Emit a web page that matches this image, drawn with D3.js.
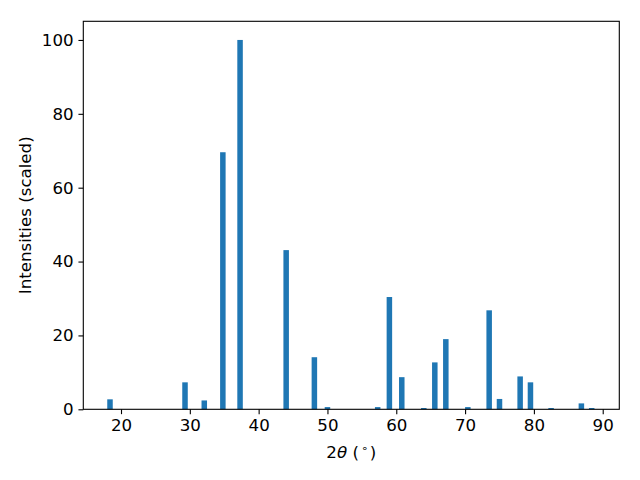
<!DOCTYPE html>
<html>
<head>
<meta charset="utf-8">
<script src="https://cdn.jsdelivr.net/npm/d3@7"></script>
<style>
  body { margin: 0; background: #fff; }
  text { font-family: "DejaVu Sans", sans-serif; }
</style>
</head>
<body>
<svg id="chart" width="640" height="480"></svg>
<script>
// Peak positions (2θ, degrees) and scaled intensities
const positions = [18.4, 29.3, 32.1, 34.8, 37.3, 44.0, 48.1, 50.0, 57.3, 59.0, 60.8, 64.0, 65.6, 67.2, 70.4, 73.5, 75.0, 78.0, 79.5, 82.5, 86.9, 88.4];
const intensities = [2.7, 7.3, 2.4, 69.6, 100, 43.1, 14.1, 0.6, 0.6, 30.4, 8.7, 0.35, 12.7, 19.0, 0.6, 26.8, 2.8, 8.9, 7.3, 0.35, 1.6, 0.35];
const xTicks = [20, 30, 40, 50, 60, 70, 80, 90];
const yTicks = [0, 20, 40, 60, 80, 100];
const barWidth = 0.8;

const data = positions.map((p, i) => ({ x: p, y: intensities[i] }));

const svg = d3.select("#chart");
const margin = { left: 83.3, top: 21.3, right: 640 - 619.3, bottom: 480 - 409.3 };
const W = 640 - margin.left - margin.right;
const H = 480 - margin.top - margin.bottom;

const x = d3.scaleLinear().domain([14.52, 92.41]).range([0, W]);
const y = d3.scaleLinear().domain([0, 105.05]).range([H, 0]);

const g = svg.append("g").attr("transform", `translate(${margin.left},${margin.top})`);

g.selectAll("rect.bar").data(data).enter().append("rect")
  .attr("class", "bar")
  .attr("x", d => x(d.x - barWidth / 2))
  .attr("width", d => x(d.x + barWidth / 2) - x(d.x - barWidth / 2))
  .attr("y", d => y(d.y))
  .attr("height", d => y(0) - y(d.y))
  .attr("fill", "#1f77b4");

const fs = "16.67px";

const xAxis = g.append("g").attr("transform", `translate(0,${H})`)
  .call(d3.axisBottom(x).tickValues(xTicks).tickFormat(d3.format("d")).tickSizeOuter(0).tickSize(4.86).tickPadding(4.86));
const yAxis = g.append("g")
  .call(d3.axisLeft(y).tickValues(yTicks).tickFormat(d3.format("d")).tickSizeOuter(0).tickSize(4.86).tickPadding(4.86));

[xAxis, yAxis].forEach(a => {
  a.select(".domain").remove();
  a.selectAll(".tick line").attr("stroke", "#000").attr("stroke-width", 1.1);
  a.selectAll(".tick text").attr("fill", "#000").style("font-size", fs).style("font-family", "DejaVu Sans, sans-serif");
});

// Frame
g.append("rect").attr("x", 0).attr("y", 0).attr("width", W).attr("height", H)
  .attr("fill", "none").attr("stroke", "#000").attr("stroke-width", 1.1);

// X label: 2θ (°)
const xl = svg.append("text")
  .attr("x", margin.left + W / 2).attr("y", 458)
  .attr("text-anchor", "middle")
  .style("font-size", fs).attr("fill", "#000");
xl.append("tspan").text("2");
xl.append("tspan").attr("font-style", "italic").text("θ");
xl.append("tspan").text(" (");
xl.append("tspan").attr("dy", -6).attr("dx", 2).style("font-size", "11px").text("∘");
xl.append("tspan").attr("dy", 6).attr("dx", 2).text(")");

// Y label
svg.append("text")
  .attr("transform", `translate(31,${margin.top + H / 2}) rotate(-90)`)
  .attr("text-anchor", "middle")
  .style("font-size", fs).attr("fill", "#000")
  .text("Intensities (scaled)");
</script>
</body>
</html>
